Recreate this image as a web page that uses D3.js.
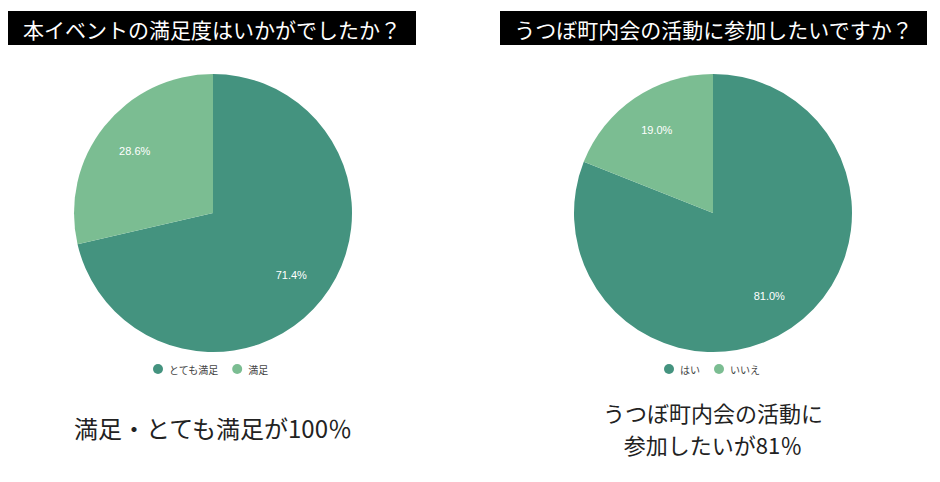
<!DOCTYPE html>
<html>
<head>
<meta charset="utf-8">
<script src="https://cdn.jsdelivr.net/npm/d3@7"></script>
<style>
  body { margin: 0; background: #fff; }
  svg text { font-family: "Noto Sans CJK JP", "Noto Sans", sans-serif; }
</style>
</head>
<body>
<div id="chart"></div>
<script>
var svgWidth = 940;
var svgHeight = 482;

// question 1
var q1Title = "本イベントの満足度はいかがでしたか？";
var q1Labels = ["とても満足", "満足"];
var q1Values = [71.4, 28.6];
var q1Note = ["満足・とても満足が100％"];

// question 2
var q2Title = "うつぼ町内会の活動に参加したいですか？";
var q2Labels = ["はい", "いいえ"];
var q2Values = [81.0, 19.0];
var q2Note = ["うつぼ町内会の活動に", "参加したいが81％"];

var colors = ["#44937f", "#7bbd92"];

var svg = d3.select("#chart")
  .append("svg")
  .attr("width", svgWidth)
  .attr("height", svgHeight);

function drawPanel(cfg) {
  var g = svg.append("g");

  // title bar
  g.append("rect")
    .attr("x", cfg.boxX)
    .attr("y", 11)
    .attr("width", cfg.boxW)
    .attr("height", 34)
    .attr("fill", "#000");
  g.append("text")
    .attr("x", cfg.boxX + cfg.boxW / 2)
    .attr("y", 29)
    .attr("text-anchor", "middle")
    .attr("dominant-baseline", "central")
    .attr("fill", "#fff")
    .style("font-size", "21px")
    .text(cfg.title);

  var r = 139;
  var pieGroup = g.append("g")
    .attr("transform", `translate(${cfg.cx}, 213)`);

  var data = cfg.labels.map((d, i) => ({ label: d, value: cfg.values[i] }));
  var pie = d3.pie().sort(null).value(d => d.value);
  var arc = d3.arc().innerRadius(0).outerRadius(r);
  var labelArc = d3.arc().innerRadius(r * 0.72).outerRadius(r * 0.72);

  var slices = pie(data);
  pieGroup.selectAll("path")
    .data(slices)
    .enter()
    .append("path")
    .attr("d", arc)
    .attr("fill", (d, i) => colors[i]);

  pieGroup.selectAll(".pct")
    .data(slices)
    .enter()
    .append("text")
    .attr("class", "pct")
    .attr("transform", d => `translate(${labelArc.centroid(d)})`)
    .attr("text-anchor", "middle")
    .attr("dominant-baseline", "central")
    .attr("fill", "#fff")
    .style("font-family", "'Liberation Sans', Arial, sans-serif")
    .style("font-size", "11px")
    .text(d => d.data.value.toFixed(1) + "%");

  // legend
  var legend = g.append("g").attr("transform", "translate(0, 369)");
  var x = cfg.legendX;
  data.forEach(function(d, i) {
    legend.append("circle")
      .attr("cx", x)
      .attr("cy", 0)
      .attr("r", 5)
      .attr("fill", colors[i]);
    var t = legend.append("text")
      .attr("x", x + 11)
      .attr("y", 0)
      .attr("dominant-baseline", "central")
      .attr("fill", "#444")
      .style("font-size", "10px")
      .text(d.label);
    x += 11 + t.node().getComputedTextLength() + 19;
  });

  // note underneath, one text per line
  cfg.note.forEach(function(line, i) {
    g.append("text")
      .attr("x", cfg.cx)
      .attr("y", cfg.noteY + i * 32)
      .attr("text-anchor", "middle")
      .attr("dominant-baseline", "central")
      .attr("fill", "#222")
      .style("font-size", cfg.noteSize + "px")
      .text(line);
  });
}

drawPanel({ title: q1Title, labels: q1Labels, values: q1Values, note: q1Note,
  boxX: 8, boxW: 408, cx: 213, legendX: 158, noteY: 427, noteSize: 24 });
drawPanel({ title: q2Title, labels: q2Labels, values: q2Values, note: q2Note,
  boxX: 500, boxW: 427, cx: 713, legendX: 669, noteY: 412, noteSize: 22 });
</script>
</body>
</html>
